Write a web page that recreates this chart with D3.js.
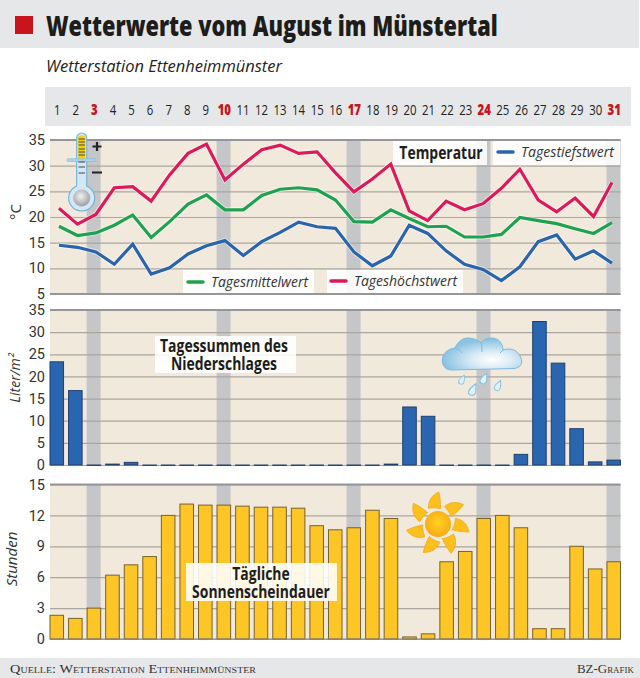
<!DOCTYPE html>
<html>
<head>
<meta charset="utf-8">
<script src="https://cdn.jsdelivr.net/npm/d3@7"></script>
<style>
  html, body { margin: 0; padding: 0; background: #fff; }
  svg { display: block; }
  text { font-family: "Open Sans", sans-serif; }
</style>
</head>
<body>
<div id="chart"></div>
<script>
const days = d3.range(1, 32);
const weekendDays = [3, 10, 17, 24, 31];

const tempLow = [14.5, 14.1, 13.2, 10.8, 14.7, 8.9, 10.1, 12.8, 14.4, 15.4, 12.5, 15.2, 17, 19, 18.1, 17.8, 13.2, 10.5, 12.4, 18.4, 16.8, 13.4, 10.8, 9.8, 7.6, 10.3, 15.2, 16.5, 11.8, 13.4, 11];
const tempMean = [18.2, 16.4, 16.9, 18.4, 20.4, 16, 19.1, 22.5, 24.3, 21.4, 21.4, 24.2, 25.4, 25.7, 25.3, 23.3, 19.1, 19, 21.4, 19.7, 18.1, 18.2, 16.1, 16.1, 16.6, 19.9, 19.3, 18.7, 17.7, 16.8, 18.9];
const tempHigh = [21.7, 18.6, 20.5, 25.7, 25.9, 23.1, 28.2, 32.4, 34.2, 27.2, 30.3, 33.1, 34, 32.4, 32.7, 28.6, 24.9, 27.4, 30.3, 21.2, 19.3, 23.1, 21.4, 22.6, 25.6, 29.3, 23.3, 21, 23.7, 20.1, 26.7];
const rain = [23.3, 16.8, 0, 0.2, 0.6, 0, 0, 0, 0, 0, 0, 0, 0, 0, 0, 0, 0, 0, 0.2, 13.1, 11, 0, 0, 0, 0, 2.4, 32.4, 23, 8.2, 0.7, 1.1];
const sunHours = [2.3, 2, 3, 6.2, 7.2, 8, 12, 13.1, 13, 13, 12.9, 12.8, 12.8, 12.7, 11, 10.6, 10.8, 12.5, 11.7, 0.2, 0.5, 7.5, 8.5, 11.7, 12, 10.8, 1, 1, 9, 6.8, 7.5];

const tempTicks = [5, 10, 15, 20, 25, 30, 35];
const rainTicks = [0, 5, 10, 15, 20, 25, 30, 35];
const sunTicks = [0, 3, 6, 9, 12, 15];

const width = 640, height = 678;
const left = 50, right = 620.5;

const svg = d3.select("#chart").append("svg")
  .attr("width", width)
  .attr("height", height);

const defs = svg.append("defs");

function radial(id, cx, cy, r, stops) {
  const g = defs.append("radialGradient").attr("id", id)
    .attr("cx", cx).attr("cy", cy).attr("r", r);
  stops.forEach(s => g.append("stop").attr("offset", s[0]).attr("stop-color", s[1]));
}
radial("cloudFill", 0.63, 0.68, 0.62, [[0, "#ffffff"], [0.4, "#dcecf6"], [1, "#8cc3e2"]]);
radial("sunFill", 0.5, 0.45, 0.6, [[0, "#ffd31f"], [1, "#f7a614"]]);
radial("bulbFill", 0.45, 0.4, 0.6, [[0, "#f2f2f2"], [1, "#9d9fa3"]]);

const x = d3.scaleBand()
  .domain(days)
  .range([left, right])
  .paddingInner(0.27)
  .paddingOuter(0)
  .align(0);

const xLine = d3.scalePoint()
  .domain(days)
  .range([59, 612]);

// header
svg.append("rect").attr("width", 639).attr("height", 48).attr("fill", "#e6e7e8");
svg.append("rect").attr("x", 15).attr("y", 16).attr("width", 18).attr("height", 18).attr("fill", "#c8141c");
svg.append("text")
  .attr("transform", "translate(46,36) scale(0.75,1)")
  .attr("font-size", 29).attr("font-weight", 800)
  .attr("fill", "#1d1d1b")
  .text("Wetterwerte vom August im Münstertal");

svg.append("text")
  .attr("x", 46).attr("y", 72)
  .attr("font-size", 17).attr("font-style", "italic")
  .attr("fill", "#222")
  .attr("textLength", 236).attr("lengthAdjust", "spacingAndGlyphs")
  .text("Wetterstation Ettenheimmünster");

// day strip
svg.append("rect").attr("x", 45).attr("y", 87).attr("width", 586).attr("height", 39).attr("fill", "#e6e7e8");
svg.selectAll(".day")
  .data(days)
  .enter().append("text")
  .attr("class", "day")
  .attr("transform", d => `translate(${x(d) + x.bandwidth() / 2 + 0.5},115) scale(0.76,1)`)
  .attr("text-anchor", "middle")
  .attr("font-size", 15)
  .attr("font-weight", d => weekendDays.includes(d) ? 800 : 400)
  .attr("fill", d => weekendDays.includes(d) ? "#c8141c" : "#222")
  .text(d => d);

function panel(domain, ticks, top, bottom, bottomLine) {
  const y = d3.scaleLinear().domain(domain).range([bottom, top]);
  const g = svg.append("g");

  g.append("rect")
    .attr("x", left).attr("y", top)
    .attr("width", right - left).attr("height", bottom - top)
    .attr("fill", "#f2e9dd");

  g.selectAll(".weekend")
    .data(weekendDays)
    .enter().append("rect")
    .attr("x", d => x(d) - 0.5)
    .attr("y", top)
    .attr("width", 14)
    .attr("height", bottom - top)
    .attr("fill", "#c5c6c8");

  const axis = g.append("g")
    .attr("transform", `translate(${left},0)`)
    .call(d3.axisLeft(y).tickValues(ticks).tickSize(-(right - left)).tickPadding(5));
  axis.select(".domain").remove();
  axis.selectAll("line").attr("stroke", "#aaa69f").attr("stroke-width", 1.2);
  axis.selectAll("text")
    .attr("font-size", 14.5)
    .attr("fill", "#333")
    .style("font-family", "Roboto");

  // top edge of the panel
  g.append("line")
    .attr("x1", left).attr("x2", right)
    .attr("y1", top).attr("y2", top)
    .attr("stroke", "#96969a").attr("stroke-width", 2);
  if (bottomLine) {
    g.append("line")
      .attr("x1", left).attr("x2", right)
      .attr("y1", bottom).attr("y2", bottom)
      .attr("stroke", "#96969a").attr("stroke-width", 2);
  }
  return y;
}

function labelBox(bx, by, bw, bh) {
  svg.append("rect")
    .attr("x", bx).attr("y", by)
    .attr("width", bw).attr("height", bh)
    .attr("fill", "#ffffff").attr("fill-opacity", 0.88);
}

// one text element per heading, squeezed to the narrow look of the original
function heading(cx, cy, lines) {
  const t = svg.append("text")
    .attr("transform", `translate(${cx},${cy}) scale(0.82,1)`)
    .attr("text-anchor", "middle")
    .attr("font-size", 17).attr("font-weight", 700)
    .attr("fill", "#1d1d1b");
  lines.forEach((l, i) => {
    t.append("tspan").attr("x", 0).attr("dy", i ? 18 : 0).text(l);
  });
}

function axisTitle(cx, cy, str, italic, size) {
  svg.append("text")
    .attr("transform", `translate(${cx},${cy}) rotate(-90)`)
    .attr("text-anchor", "middle")
    .attr("font-size", size)
    .attr("font-style", italic ? "italic" : "normal")
    .attr("fill", "#333")
    .text(str);
}

function bars(values, y, fill, stroke) {
  svg.append("g").selectAll("rect")
    .data(values)
    .enter().append("rect")
    .attr("x", (d, i) => x(days[i]))
    .attr("y", d => y(d))
    .attr("width", x.bandwidth())
    .attr("height", d => Math.max(y(0) - y(d), 0.4))
    .attr("fill", fill)
    .attr("stroke", stroke)
    .attr("stroke-width", 1);
}

// temperature
const yTemp = panel([5, 35], tempTicks, 140, 294, true);
axisTitle(21, 212, "°C", false, 15);

const line = d3.line().x((d, i) => xLine(days[i])).y(d => yTemp(d));
[[tempLow, "#2a64ab"], [tempMean, "#1fa24f"], [tempHigh, "#dc1a5a"]].forEach(s => {
  svg.append("path").datum(s[0]).attr("d", line)
    .attr("fill", "none").attr("stroke", "#fff").attr("stroke-opacity", 0.5)
    .attr("stroke-width", 5).attr("stroke-linejoin", "miter");
  svg.append("path").datum(s[0]).attr("d", line)
    .attr("fill", "none").attr("stroke", s[1])
    .attr("stroke-width", 3.2).attr("stroke-linejoin", "miter");
});

labelBox(393, 141, 94, 24);
heading(441, 159, ["Temperatur"]);
labelBox(493, 141, 127, 24);
labelBox(183, 270, 131, 23);
labelBox(327, 270, 136, 23);

function legend(lx, ly, color, str, len) {
  svg.append("line")
    .attr("x1", lx).attr("x2", lx + 15)
    .attr("y1", ly).attr("y2", ly)
    .attr("stroke", color).attr("stroke-width", 3.5).attr("stroke-linecap", "round");
  svg.append("text")
    .attr("x", lx + 23).attr("y", ly + 5)
    .attr("font-size", 14).attr("font-style", "italic")
    .attr("fill", "#333")
    .attr("textLength", len).attr("lengthAdjust", "spacingAndGlyphs")
    .text(str);
}
legend(498, 152, "#2a64ab", "Tagestiefstwert", 93);
legend(188, 282, "#1fa24f", "Tagesmittelwert", 97);
legend(331, 281, "#dc1a5a", "Tageshöchstwert", 103);

// thermometer
const thermo = svg.append("g");
thermo.append("path")
  .attr("d", "M76.7,138 a5,5 0 0 1 10,0 V186 a13,13 0 1 1 -10,0 Z")
  .attr("fill", "#d3e7f5").attr("stroke", "#6fb2da").attr("stroke-width", 1.1);
thermo.append("rect").attr("x", 78.2).attr("y", 135.5).attr("width", 7).attr("height", 24).attr("rx", 2).attr("fill", "#f4cf12");
thermo.append("circle").attr("cx", 81.7).attr("cy", 198).attr("r", 8.5).attr("fill", "url(#bulbFill)");
thermo.append("rect").attr("x", 67).attr("y", 158.8).attr("width", 29).attr("height", 2.6)
  .attr("rx", 1.3).attr("fill", "#b5d6ec").attr("stroke", "#6fb2da").attr("stroke-width", 0.6);
thermo.selectAll(".mark")
  .data([139, 142, 145, 149, 152, 155, 162, 167, 173])
  .enter().append("line")
  .attr("x1", 78.5).attr("x2", 85)
  .attr("y1", d => d).attr("y2", d => d)
  .attr("stroke", "#444").attr("stroke-width", 1);
thermo.append("path").attr("d", "M92.5,146.5 h9 M97,142 v9 M92,172.5 h10")
  .attr("stroke", "#222").attr("stroke-width", 2.2).attr("fill", "none");

// rain
const yRain = panel([0, 35], rainTicks, 310, 465, false);
axisTitle(20, 378, "Liter/m²", true, 14);
labelBox(155, 336, 141, 37);
heading(224, 352, ["Tagessummen des", "Niederschlages"]);
bars(rain, yRain, "#2a66b0", "#1f3f6e");

const cloud = svg.append("g");
cloud.append("path")
  .attr("d", "M452,370 C445,370 442,365 442.3,360 C442.5,354 447,349 455,348 C458,341 463,338 468,338 C473,338 478,340 481,343 C484,339 488,338 492,338 C498,338 503,343 503,350 C508,348 514,349 517,352 C520,355 522,359 521.7,362 C521.5,366 518,368 514,368.5 Z")
  .attr("fill", "url(#cloudFill)").attr("stroke", "#7cbbdc").attr("stroke-width", 1);
cloud.append("path")
  .attr("d", "M455,348 C458,349 461,351 462,353 M481,343 C482,346 482,349 482,352 M503,350 C502,351 501,352 500,353")
  .attr("fill", "none").attr("stroke", "#7cbbdc").attr("stroke-width", 1);
cloud.selectAll(".drop")
  .data([[462, 380, 0.9], [473, 390, 1.15], [484, 379, 1.05], [498, 386, 1]])
  .enter().append("path")
  .attr("transform", d => `translate(${d[0]},${d[1]}) rotate(25) scale(${d[2]})`)
  .attr("d", "M0,-6 C1.5,-3 3,-1 3,1.8 A3,3 0 0 1 -3,1.8 C-3,-1 -1.5,-3 0,-6 Z")
  .attr("fill", "#e2f0f8").attr("stroke", "#86c3e2").attr("stroke-width", 1);

// sunshine
const ySun = panel([0, 15], sunTicks, 484.5, 639, false);
axisTitle(17, 559, "Stunden", true, 15);
bars(sunHours, ySun, "#fdc626", "#76622c");
svg.append("line")
  .attr("x1", left).attr("x2", right)
  .attr("y1", 639).attr("y2", 639)
  .attr("stroke", "#8c8778").attr("stroke-width", 1.2);
labelBox(186, 563, 151, 38);
heading(261, 580, ["Tägliche", "Sonnenscheindauer"]);

const sun = svg.append("g").attr("transform", "translate(438,524)");
sun.selectAll(".ray")
  .data(d3.range(7))
  .enter().append("path")
  .attr("transform", d => `rotate(${-2 + d * 360 / 7})`)
  .attr("d", "M-9,-16 C-9,-24 -5,-29 2,-32 C3,-27 3.5,-21 3,-15 C-1,-16.5 -5,-16.5 -9,-16 Z")
  .attr("fill", "#fcc01c").attr("stroke", "#f0a515").attr("stroke-width", 0.7);
sun.append("circle").attr("r", 13).attr("fill", "url(#sunFill)");

// footer
svg.append("rect").attr("y", 658).attr("width", 640).attr("height", 20).attr("fill", "#e6e7e8");
svg.append("text")
  .attr("x", 10).attr("y", 673)
  .attr("font-size", 13)
  .style("font-family", "'Liberation Serif'")
  .style("font-variant", "small-caps")
  .attr("fill", "#333")
  .attr("textLength", 246).attr("lengthAdjust", "spacingAndGlyphs")
  .text("Quelle: Wetterstation Ettenheimmünster");
svg.append("text")
  .attr("x", 577).attr("y", 673)
  .attr("font-size", 13)
  .style("font-family", "'Liberation Serif'")
  .style("font-variant", "small-caps")
  .attr("fill", "#333")
  .attr("textLength", 57).attr("lengthAdjust", "spacingAndGlyphs")
  .text("BZ-Grafik");
</script>
</body>
</html>
